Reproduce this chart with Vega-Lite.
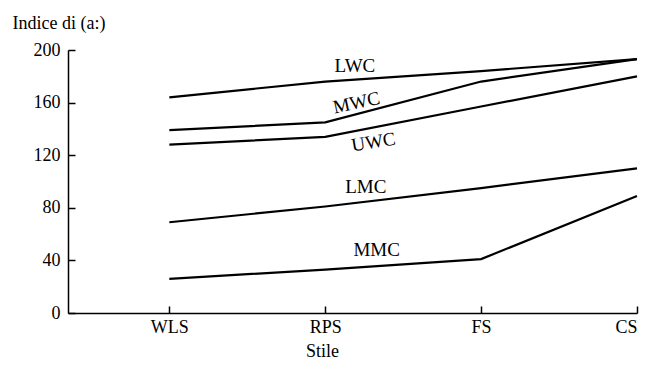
{
  "$schema": "https://vega.github.io/schema/vega-lite/v6.json",
  "width": 569,
  "height": 263,
  "autosize": "none",
  "padding": {"left": 68, "top": 50, "right": 9, "bottom": 52},
  "background": "white",
  "config": {
    "view": {"stroke": null},
    "font": "Liberation Serif",
    "axis": {
      "domainColor": "black",
      "domainWidth": 1.5,
      "tickColor": "black",
      "tickWidth": 1.5,
      "grid": false,
      "labelFont": "Liberation Serif",
      "labelFontSize": 18,
      "labelColor": "black",
      "titleFont": "Liberation Serif",
      "titleFontSize": 18,
      "titleFontWeight": "normal",
      "titleColor": "black"
    }
  },
  "datasets": {
    "serie": [
      {"stile": "WLS", "serie": "LWC", "valore": 164},
      {"stile": "RPS", "serie": "LWC", "valore": 176},
      {"stile": "FS", "serie": "LWC", "valore": 184},
      {"stile": "CS", "serie": "LWC", "valore": 193},
      {"stile": "WLS", "serie": "MWC", "valore": 139},
      {"stile": "RPS", "serie": "MWC", "valore": 145},
      {"stile": "FS", "serie": "MWC", "valore": 176},
      {"stile": "CS", "serie": "MWC", "valore": 193},
      {"stile": "WLS", "serie": "UWC", "valore": 128},
      {"stile": "RPS", "serie": "UWC", "valore": 134},
      {"stile": "FS", "serie": "UWC", "valore": 157},
      {"stile": "CS", "serie": "UWC", "valore": 180},
      {"stile": "WLS", "serie": "LMC", "valore": 69},
      {"stile": "RPS", "serie": "LMC", "valore": 81},
      {"stile": "FS", "serie": "LMC", "valore": 95},
      {"stile": "CS", "serie": "LMC", "valore": 110},
      {"stile": "WLS", "serie": "MMC", "valore": 26},
      {"stile": "RPS", "serie": "MMC", "valore": 33},
      {"stile": "FS", "serie": "MMC", "valore": 41},
      {"stile": "CS", "serie": "MMC", "valore": 89}
    ],
    "etichette": [
      {"serie": "LWC", "pos": 2.19, "valore": 188},
      {"serie": "MWC", "pos": 2.2, "valore": 160},
      {"serie": "UWC", "pos": 2.31, "valore": 130},
      {"serie": "LMC", "pos": 2.26, "valore": 96},
      {"serie": "MMC", "pos": 2.33, "valore": 48}
    ]
  },
  "layer": [
    {
      "data": {"name": "serie"},
      "transform": [
        {"calculate": "indexof(['WLS','RPS','FS','CS'], datum.stile) + 1", "as": "pos"}
      ],
      "mark": {"type": "line", "color": "black", "strokeWidth": 2.2},
      "encoding": {
        "x": {
          "field": "pos",
          "type": "quantitative",
          "scale": {"domain": [0.35, 4], "nice": false, "zero": false},
          "axis": {
            "values": [1, 2, 3, 4],
            "labelExpr": "['WLS','RPS','FS','CS'][datum.value - 1]",
            "tickSize": -7,
            "labelPadding": 12,
            "labelBaseline": "top",
            "title": "Stile",
            "titleX": 254,
            "titleY": 38,
            "titleBaseline": "middle",
            "titleAnchor": "middle"
          }
        },
        "y": {
          "field": "valore",
          "type": "quantitative",
          "scale": {"domain": [0, 200], "nice": false},
          "axis": {
            "values": [0, 40, 80, 120, 160, 200],
            "tickSize": -7,
            "labelPadding": 15,
            "title": "Indice di (a:)",
            "titleAngle": 0,
            "titleAlign": "left",
            "titleBaseline": "middle",
            "titleX": -56,
            "titleY": -27
          }
        },
        "detail": {"field": "serie"}
      }
    },
    {
      "data": {"name": "etichette"},
      "transform": [{"filter": "datum.serie === 'LWC' || datum.serie === 'LMC' || datum.serie === 'MMC'"}],
      "mark": {"type": "text", "font": "Liberation Serif", "fontSize": 19, "color": "black", "baseline": "middle", "align": "center"},
      "encoding": {
        "x": {"field": "pos", "type": "quantitative"},
        "y": {"field": "valore", "type": "quantitative"},
        "text": {"field": "serie"}
      }
    },
    {
      "data": {"name": "etichette"},
      "transform": [{"filter": "datum.serie === 'MWC'"}],
      "mark": {"type": "text", "font": "Liberation Serif", "fontSize": 19, "color": "black", "baseline": "middle", "align": "center", "angle": -12},
      "encoding": {
        "x": {"field": "pos", "type": "quantitative"},
        "y": {"field": "valore", "type": "quantitative"},
        "text": {"field": "serie"}
      }
    },
    {
      "data": {"name": "etichette"},
      "transform": [{"filter": "datum.serie === 'UWC'"}],
      "mark": {"type": "text", "font": "Liberation Serif", "fontSize": 19, "color": "black", "baseline": "middle", "align": "center", "angle": -9},
      "encoding": {
        "x": {"field": "pos", "type": "quantitative"},
        "y": {"field": "valore", "type": "quantitative"},
        "text": {"field": "serie"}
      }
    }
  ]
}
